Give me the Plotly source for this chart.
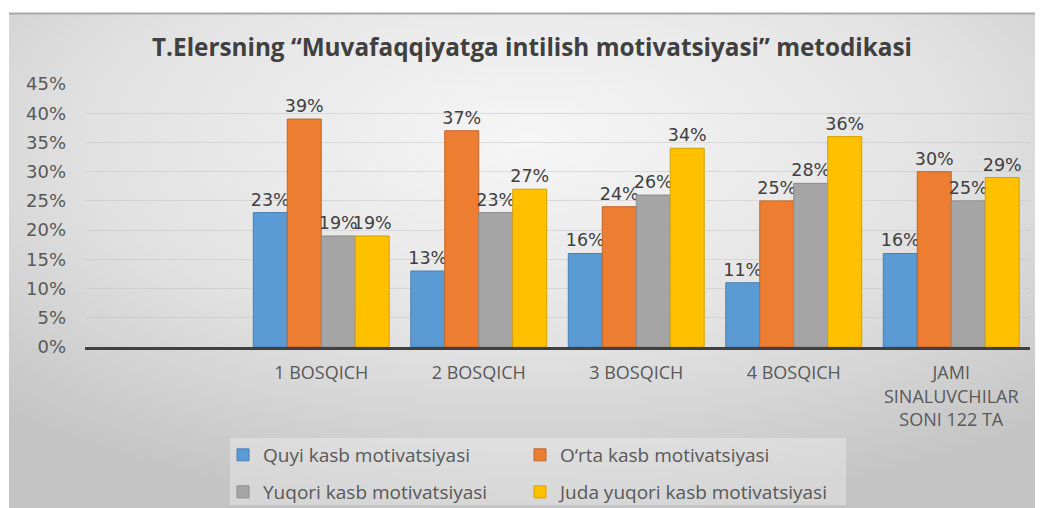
import base64
import plotly.graph_objects as go

categories = ["1 BOSQICH", "2 BOSQICH", "3 BOSQICH", "4 BOSQICH",
              "JAMI<br>SINALUVCHILAR<br>SONI 122 TA"]
series_names = ["Quyi kasb motivatsiyasi", "O‘rta kasb motivatsiyasi",
                "Yuqori kasb motivatsiyasi", "Juda yuqori kasb motivatsiyasi"]
quyi = [0.23, 0.13, 0.16, 0.11, 0.16]
orta = [0.39, 0.37, 0.24, 0.25, 0.30]
yuqori = [0.19, 0.23, 0.26, 0.28, 0.25]
juda = [0.19, 0.27, 0.34, 0.36, 0.29]
y_ticks = [0, 0.05, 0.10, 0.15, 0.20, 0.25, 0.30, 0.35, 0.40, 0.45]

colors = ["#5B9BD5", "#ED7D31", "#A5A5A5", "#FFC000"]
outlines = ["#4A7FB0", "#C0652A", "#8C8C8C", "#D4A200"]
values = [quyi, orta, yuqori, juda]
legend_ids = ["legend", "legend2", "legend3", "legend4"]

W, H = 1043, 508
OFF = 8  # page body margin: page pixel = figure pixel + OFF
L, R, T, B = 85 - OFF, W - (1030 - OFF), 84 - OFF, H - (347 - OFF)
PW, PH = W - L - R, H - T - B


def px_x(p):  # p in page pixels
    return (p - OFF - L) / PW


def px_y(p):
    return (H - B - (p - OFF)) / PH


fig = go.Figure()
for name, vals, c, oc, lg in zip(series_names, values, colors, outlines, legend_ids):
    fig.add_trace(go.Bar(
        x=categories, y=vals, name=name,
        marker=dict(color=c, line=dict(color=oc, width=1)),
        texttemplate="%{y:.0%}", textposition="outside",
        textfont=dict(family="DejaVu Sans", size=17.5, color="#404040"),
        constraintext="none", cliponaxis=False, legend=lg,
    ))

svg = ('<svg xmlns="http://www.w3.org/2000/svg" width="200" height="100" '
       'preserveAspectRatio="none" viewBox="0 0 200 100">'
       '<defs><radialGradient id="g" cx="0.5" cy="0.25" r="0.75">'
       '<stop offset="0" stop-color="#f6f6f6"/>'
       '<stop offset="0.55" stop-color="#e2e2e2"/>'
       '<stop offset="1" stop-color="#c4c4c4"/></radialGradient></defs>'
       '<rect width="200" height="100" fill="url(#g)"/></svg>')
src = "data:image/svg+xml;base64," + base64.b64encode(svg.encode()).decode()

legend_pos = {"legend": (223, 455), "legend2": (520, 455),
              "legend3": (223, 492), "legend4": (520, 492)}
legend_layout = {}
for lid, (lx, ly) in legend_pos.items():
    legend_layout[lid] = dict(
        x=px_x(lx), y=px_y(ly), xanchor="left", yanchor="middle",
        bgcolor="rgba(0,0,0,0)", itemwidth=30,
        font=dict(family="Open Sans", size=19, color="#595959"))

fig.update_layout(
    width=W, height=H, autosize=False, showlegend=True,
    margin=dict(l=L, r=R, t=T, b=B, autoexpand=False),
    paper_bgcolor="white", plot_bgcolor="rgba(0,0,0,0)",
    barmode="group", bargap=0.137, bargroupgap=0,
    title=dict(text="<b>T.Elersning “Muvafaqqiyatga intilish motivatsiyasi” metodikasi</b>",
               x=px_x(532), xanchor="center", xref="paper", y=1 - (47 - OFF) / H, yanchor="middle",
               font=dict(family="Open Sans", size=24.3, color="#404040")),
    images=[dict(source=src, xref="paper", yref="paper",
                 x=px_x(9), y=px_y(13), sizex=(W + OFF - 9) / PW, sizey=(H + OFF - 13) / PH,
                 xanchor="left", yanchor="top", sizing="stretch", layer="below")],
    shapes=[
        dict(type="line", xref="paper", yref="paper", x0=px_x(9), x1=px_x(W + OFF),
             y0=px_y(13.5), y1=px_y(13.5), line=dict(color="#a8a8a8", width=2), layer="below"),
        dict(type="rect", xref="paper", yref="paper", x0=px_x(230), x1=px_x(846),
             y0=px_y(438), y1=px_y(505), fillcolor="rgba(255,255,255,0.3)",
             line=dict(width=0), layer="below"),
    ],
    xaxis=dict(type="category", range=[-1.5, 4.5], showline=True, linecolor="#404040",
               linewidth=2.5, showgrid=False, ticks="", ticklabelstandoff=8,
               tickfont=dict(family="Open Sans", size=18, color="#595959")),
    yaxis=dict(range=[0, 0.45], tickvals=y_ticks, tickformat=".0%",
               showgrid=True, gridcolor="rgba(190,190,190,0.45)", gridwidth=1,
               zeroline=False, showline=False, ticks="", ticklabelstandoff=18,
               tickfont=dict(family="DejaVu Sans", size=18, color="#595959")),
    **legend_layout,
)

fig.write_html("out.html")
